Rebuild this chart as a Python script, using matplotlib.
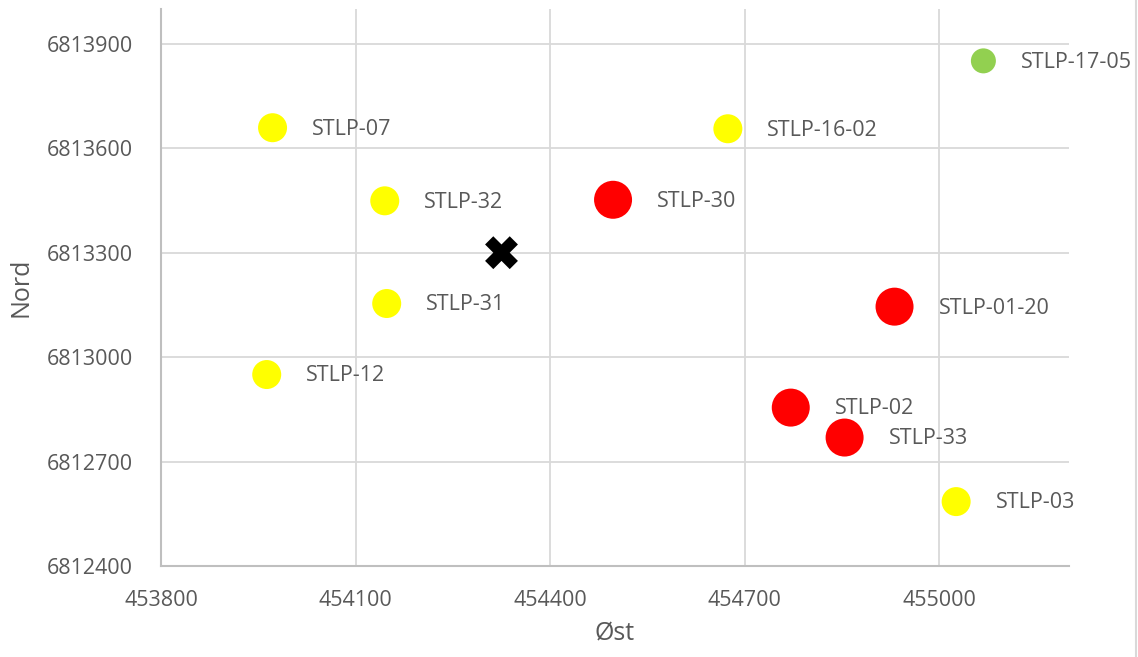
import matplotlib.pyplot as plt
from matplotlib.ticker import FormatStrFormatter
from matplotlib.lines import Line2D

plt.rcParams['font.family'] = ['Open Sans', 'DejaVu Sans']

# brønner: navn, øst, nord, status
names = ['STLP-07', 'STLP-32', 'STLP-31', 'STLP-12', 'STLP-30', 'STLP-16-02',
         'STLP-17-05', 'STLP-01-20', 'STLP-02', 'STLP-33', 'STLP-03']
east = [453972, 454145, 454148, 453963, 454497, 454674,
        455068, 454931, 454771, 454854, 455026]
north = [6813659, 6813449, 6813154, 6812950, 6813452, 6813656,
         6813851, 6813145, 6812855, 6812769, 6812585]
status = ['gul', 'gul', 'gul', 'gul', 'rod', 'gul',
          'gronn', 'rod', 'rod', 'rod', 'gul']

# senterpunkt (kryss)
center_east = [454325]
center_north = [6813300]

xticks = [453800, 454100, 454400, 454700, 455000]
yticks = [6812400, 6812700, 6813000, 6813300, 6813600, 6813900]

style = {
    'rod': dict(color='#FF0000', diam=38),
    'gul': dict(color='#FFFF00', diam=29),
    'gronn': dict(color='#92D050', diam=25),
}

fig = plt.figure(figsize=(11.38, 6.57), dpi=100)
ax = fig.add_axes([161 / 1138, 1 - 566 / 657, (1069 - 161) / 1138, (566 - 9) / 657])

ax.set_xlim(453800, 455200)
ax.set_ylim(6812400, 6814000)
ax.set_xticks(xticks)
ax.set_yticks(yticks)
ax.xaxis.set_major_formatter(FormatStrFormatter('%d'))
ax.yaxis.set_major_formatter(FormatStrFormatter('%d'))
ax.grid(True, color='#d9d9d9', lw=1.3)
ax.set_axisbelow(True)
for s in ['top', 'right']:
    ax.spines[s].set_visible(False)
for s in ['left', 'bottom']:
    ax.spines[s].set_color('#bfbfbf')
    ax.spines[s].set_linewidth(1.5)
ax.tick_params(length=0, labelsize=15.5, labelcolor='#595959')
ax.tick_params(axis='x', pad=17)
ax.tick_params(axis='y', pad=20)

for n, x, y, st in zip(names, east, north, status):
    d = style[st]['diam'] * 0.72
    ax.scatter([x], [y], s=d ** 2, color=style[st]['color'], edgecolors='none', zorder=3)
    ax.annotate(n, (x, y), xytext=(d / 2 + 18, -1), textcoords='offset points',
                va='center', ha='left', fontsize=15.5, color='#595959', zorder=4)

ax.scatter(center_east, center_north, marker='X', s=560, color='black',
           edgecolors='none', zorder=3)

ax.set_xlabel('Øst', fontsize=18, color='#595959', labelpad=8)
ax.set_ylabel('Nord', fontsize=18, color='#595959', labelpad=10)

# tynn kantlinje til høyre
fig.add_artist(Line2D([0.9985, 0.9985], [0, 1], color='#d9d9d9', lw=1.5))

fig.savefig('out.png', dpi=100)
